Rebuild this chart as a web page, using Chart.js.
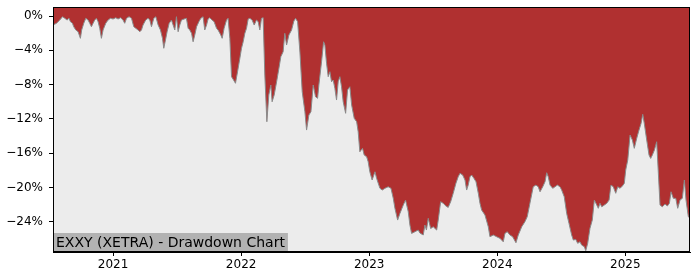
<!DOCTYPE html>
<html>
<head>
<meta charset="utf-8">
<script src="https://cdn.jsdelivr.net/npm/chart.js@4/dist/chart.umd.min.js"></script>
<style>
  html, body { margin: 0; padding: 0; background: #ffffff; }
  #wrap { width: 700px; height: 280px; position: relative; }
</style>
</head>
<body>
<div id="wrap"><canvas id="c" width="700" height="280"></canvas></div>
<script>
// Dates as decimal years
const dates = [
  2020.531,2020.558,2020.584,2020.605,2020.623,2020.641,2020.656,2020.667,2020.683,2020.693,
  2020.709,2020.727,2020.745,2020.755,2020.771,2020.787,2020.805,2020.818,2020.831,2020.844,
  2020.857,2020.870,2020.883,2020.896,2020.909,2020.922,2020.943,2020.961,2020.980,2021.000,
  2021.021,2021.039,2021.058,2021.078,2021.091,2021.105,2021.125,2021.144,2021.162,2021.177,
  2021.195,2021.209,2021.222,2021.234,2021.255,2021.273,2021.287,2021.300,2021.318,2021.334,
  2021.352,2021.370,2021.386,2021.396,2021.412,2021.422,2021.438,2021.456,2021.469,2021.482,
  2021.495,2021.508,2021.521,2021.534,2021.555,2021.573,2021.586,2021.599,2021.613,2021.625,
  2021.638,2021.652,2021.670,2021.685,2021.703,2021.716,2021.730,2021.742,2021.755,2021.773,
  2021.789,2021.808,2021.820,2021.841,2021.852,2021.867,2021.886,2021.898,2021.912,2021.925,
  2021.941,2021.956,2021.972,2021.990,2022.003,2022.016,2022.029,2022.042,2022.055,2022.068,
  2022.086,2022.102,2022.120,2022.133,2022.146,2022.159,2022.172,2022.185,2022.201,2022.216,
  2022.232,2022.242,2022.258,2022.277,2022.295,2022.310,2022.328,2022.341,2022.355,2022.373,
  2022.394,2022.412,2022.425,2022.441,2022.459,2022.477,2022.498,2022.511,2022.529,2022.545,
  2022.563,2022.581,2022.597,2022.607,2022.628,2022.644,2022.654,2022.667,2022.680,2022.693,
  2022.706,2022.719,2022.732,2022.745,2022.758,2022.771,2022.784,2022.797,2022.816,2022.831,
  2022.849,2022.863,2022.883,2022.902,2022.914,2022.927,2022.948,2022.961,2022.980,2022.992,
  2023.005,2023.023,2023.045,2023.058,2023.084,2023.102,2023.123,2023.148,2023.170,2023.188,
  2023.201,2023.222,2023.240,2023.266,2023.284,2023.305,2023.318,2023.331,2023.357,2023.383,
  2023.396,2023.422,2023.435,2023.447,2023.461,2023.480,2023.500,2023.527,2023.539,2023.558,
  2023.578,2023.599,2023.617,2023.636,2023.656,2023.677,2023.695,2023.709,2023.730,2023.748,
  2023.761,2023.773,2023.787,2023.800,2023.818,2023.834,2023.852,2023.865,2023.878,2023.904,
  2023.930,2023.943,2023.969,2023.995,2024.021,2024.047,2024.060,2024.078,2024.099,2024.120,
  2024.146,2024.164,2024.191,2024.216,2024.234,2024.255,2024.281,2024.302,2024.320,2024.334,
  2024.355,2024.373,2024.386,2024.398,2024.412,2024.433,2024.451,2024.469,2024.490,2024.503,
  2024.523,2024.542,2024.560,2024.581,2024.594,2024.613,2024.628,2024.646,2024.659,2024.680,
  2024.691,2024.706,2024.724,2024.742,2024.758,2024.777,2024.789,2024.802,2024.816,2024.836,
  2024.855,2024.873,2024.888,2024.906,2024.925,2024.941,2024.959,2024.977,2024.992,2025.003,
  2025.019,2025.037,2025.055,2025.070,2025.089,2025.107,2025.123,2025.136,2025.148,2025.167,
  2025.185,2025.198,2025.211,2025.227,2025.245,2025.258,2025.271,2025.289,2025.310,2025.328,
  2025.344,2025.357,2025.375,2025.394,2025.409,2025.427,2025.445,2025.461,2025.474,2025.492,
  2025.505
];
// Drawdown in percent
const drawdown = [
  -1.05,-0.85,-0.47,-0.08,-0.27,-0.47,-0.27,-0.66,-0.85,-1.25,
  -1.63,-1.83,-2.60,-1.63,-0.85,-0.27,-0.47,-0.85,-1.25,-0.85,
  -0.47,-0.27,-0.66,-1.43,-2.60,-1.63,-0.85,-0.47,-0.27,-0.35,
  -0.20,-0.35,-0.20,-0.47,-0.85,-0.27,-0.08,-0.27,-1.25,-1.43,
  -1.63,-1.83,-1.63,-1.05,-0.47,-0.27,-0.47,-1.25,-0.27,-0.08,
  -1.05,-1.63,-2.60,-3.76,-2.60,-1.83,-0.85,-0.47,-1.05,-1.63,
  -0.08,-1.83,-1.05,-0.47,-0.35,-0.27,-1.43,-1.63,-2.02,-3.00,
  -2.21,-1.25,-0.66,-0.27,-0.08,-1.63,-1.05,-0.35,-0.20,-0.47,
  -0.66,-1.43,-1.63,-2.21,-2.60,-1.43,-0.47,-0.27,-2.60,-7.07,
  -7.46,-7.84,-6.49,-4.93,-3.76,-3.00,-2.02,-1.43,-0.35,-0.27,
  -0.47,-1.05,-0.47,-0.66,-1.63,-0.27,-0.20,-6.88,-12.32,-9.21,
  -8.04,-9.99,-9.21,-7.66,-6.10,-4.74,-4.16,-2.02,-3.38,-2.21,
  -1.63,-0.58,-0.27,-0.66,-4.20,-8.82,-11.15,-13.29,-11.54,-11.15,
  -8.04,-9.41,-9.59,-8.04,-5.33,-3.00,-3.38,-5.51,-7.07,-6.49,
  -7.66,-7.46,-8.43,-9.79,-7.66,-7.07,-8.24,-9.99,-11.34,-8.62,
  -8.24,-10.37,-11.92,-12.32,-13.48,-15.82,-15.42,-16.20,-16.40,-16.98,
  -18.15,-19.11,-18.15,-18.92,-20.08,-20.28,-20.08,-19.90,-20.08,-21.25,
  -22.41,-23.78,-23.00,-22.03,-21.45,-22.81,-24.36,-25.33,-25.14,-24.94,
  -25.29,-25.52,-24.36,-24.94,-23.58,-24.76,-24.56,-24.94,-23.78,-21.64,
  -21.83,-22.14,-22.30,-21.64,-20.66,-19.50,-18.73,-18.33,-18.53,-19.11,
  -20.28,-19.70,-18.73,-18.53,-18.92,-19.31,-20.66,-21.83,-22.61,-23.19,
  -24.56,-25.72,-25.52,-25.72,-25.91,-26.31,-25.33,-25.14,-25.52,-25.72,
  -26.42,-25.52,-24.56,-23.97,-23.39,-21.83,-19.90,-19.70,-19.90,-20.48,
  -19.90,-19.31,-18.26,-18.73,-19.70,-20.08,-19.90,-19.70,-19.90,-20.28,
  -21.06,-23.00,-24.16,-25.52,-26.11,-26.03,-26.49,-26.31,-26.69,-26.89,
  -27.35,-26.49,-24.74,-23.78,-21.45,-22.03,-22.41,-21.83,-22.23,-22.03,
  -21.83,-21.45,-19.70,-19.90,-20.66,-19.90,-20.08,-19.81,-19.50,-17.95,
  -16.78,-13.87,-14.45,-15.42,-14.25,-13.29,-12.51,-11.46,-12.51,-14.45,
  -16.20,-16.59,-16.20,-15.62,-14.65,-18.33,-22.03,-22.23,-21.91,-22.14,
  -21.83,-20.48,-21.25,-21.25,-22.41,-21.45,-21.25,-19.11,-21.45,-23.39,
  -23.58
];
const yTickValues = [-24, -20, -16, -12, -8, -4, 0];
const xTickValues = [2021, 2022, 2023, 2024, 2025];
const chartTitle = 'EXXY (XETRA) - Drawdown Chart';

const points = dates.map((d, i) => ({ x: d, y: drawdown[i] }));

const RED = '#b03030';
const GREY = '#ececec';

const framePlugin = {
  id: 'frame',
  beforeDatasetsDraw(chart) {
    const a = chart.chartArea, ctx = chart.ctx;
    ctx.save();
    ctx.fillStyle = RED;
    ctx.fillRect(a.left, a.top, a.right - a.left, a.bottom - a.top);
    ctx.restore();
  },
  afterDraw(chart) {
    const a = chart.chartArea, ctx = chart.ctx;
    ctx.save();
    ctx.font = '14px "DejaVu Sans"';
    const w = ctx.measureText(chartTitle).width;
    const bh = 19;
    ctx.fillStyle = '#b2b2b2';
    ctx.fillRect(a.left, a.bottom - bh, w + 6, bh);
    ctx.fillStyle = '#000';
    ctx.textBaseline = 'alphabetic';
    ctx.fillText(chartTitle, a.left + 3, a.bottom - 5);
    ctx.strokeStyle = '#000';
    ctx.lineWidth = 1;
    ctx.strokeRect(Math.round(a.left) + 0.5, Math.round(a.top) + 0.5,
                   Math.round(a.right - a.left) - 1, Math.round(a.bottom - a.top) - 1);
    ctx.restore();
  }
};

new Chart(document.getElementById('c'), {
  type: 'line',
  data: {
    datasets: [{
      data: points,
      borderColor: '#8a8a8a',
      borderWidth: 1,
      backgroundColor: GREY,
      fill: 'start',
      pointRadius: 0,
      tension: 0
    }]
  },
  options: {
    responsive: false,
    animation: false,
    devicePixelRatio: 1,
    layout: { padding: { top: 7, right: 10, left: 0, bottom: 0 } },
    plugins: { legend: { display: false }, tooltip: { enabled: false } },
    scales: {
      x: {
        type: 'linear',
        min: 2020.531,
        max: 2025.505,
        afterBuildTicks(s) { s.ticks = xTickValues.map(v => ({ value: v })); },
        afterFit(s) { s.height = 28; s.paddingLeft = 0; s.paddingRight = 0; },
        ticks: {
          color: '#000',
          font: { family: '"DejaVu Sans"', size: 12 },
          padding: 2,
          maxRotation: 0,
          autoSkip: false,
          callback: v => String(v)
        },
        grid: { drawOnChartArea: false, color: '#000', tickLength: 4, tickWidth: 1 },
        border: { display: true, color: '#000', width: 1 }
      },
      y: {
        type: 'linear',
        min: -27.5,
        max: 1.05,
        afterBuildTicks(s) { s.ticks = yTickValues.map(v => ({ value: v })); },
        afterFit(s) { s.width = 53; s.paddingTop = 0; s.paddingBottom = 0; },
        ticks: {
          color: '#000',
          font: { family: '"DejaVu Sans"', size: 12 },
          padding: 6,
          autoSkip: false,
          callback: v => (v < 0 ? '\u2212' : '') + Math.abs(v) + '%'
        },
        grid: { drawOnChartArea: false, color: '#000', tickLength: 4, tickWidth: 1 },
        border: { display: true, color: '#000', width: 1 }
      }
    }
  },
  plugins: [framePlugin]
});
</script>
</body>
</html>
